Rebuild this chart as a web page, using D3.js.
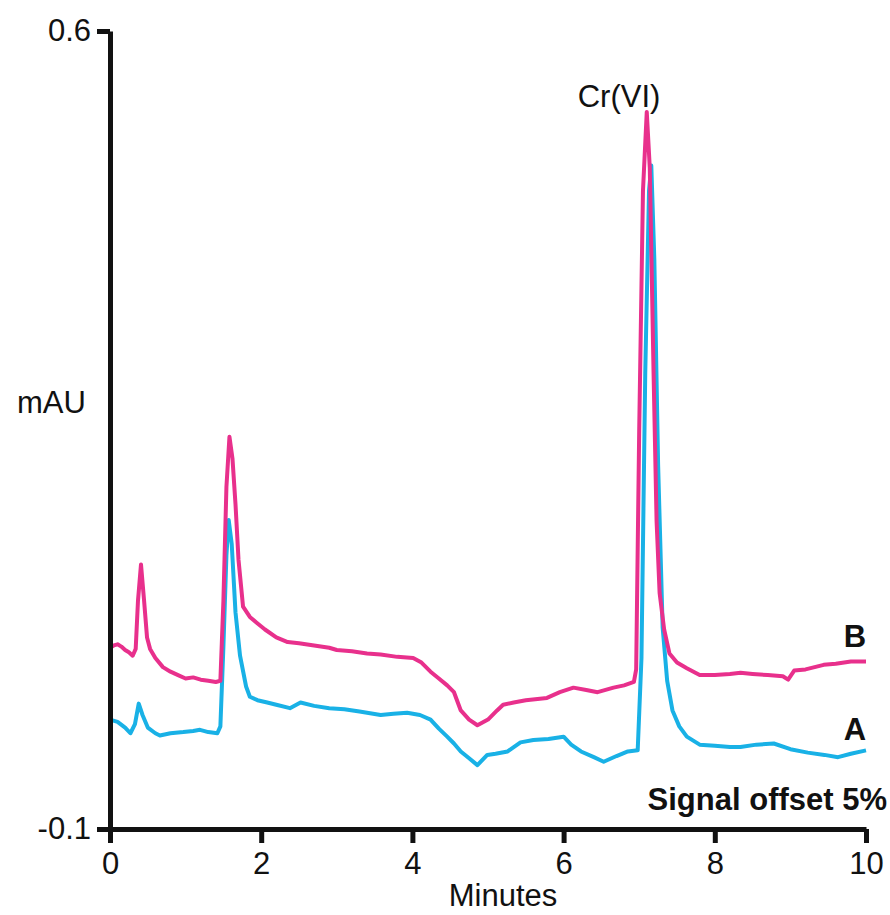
<!DOCTYPE html>
<html lang="en">
<head>
    <meta charset="UTF-8">
    <title>Cr(VI) chromatogram</title>
    <script src="https://cdnjs.cloudflare.com/ajax/libs/d3/7.8.5/d3.min.js"></script>
    <style>
        body { margin: 0; background: #fff; font-family: Arial, "Liberation Sans", sans-serif; }
        svg { display: block; }
        .axis path, .axis line { stroke: #111; stroke-width: 5px; }
        .axis text { font-family: Arial, "Liberation Sans", sans-serif; font-size: 31px; fill: #111; }
        .label { font-family: Arial, "Liberation Sans", sans-serif; font-size: 31px; fill: #111; }
        .bold { font-weight: bold; }
    </style>
</head>
<body>
<svg width="890" height="915"></svg>
<script>
    // trace B (pink, upper) - time in minutes, signal in mAU
    const timeB = [0.00, 0.05, 0.10, 0.15, 0.20, 0.25, 0.30, 0.34, 0.37, 0.41, 0.45, 0.49, 0.53, 0.60, 0.70,
        0.80, 0.90, 1.00, 1.10, 1.20, 1.30, 1.40, 1.46, 1.50, 1.54, 1.58, 1.62, 1.66, 1.70, 1.76,
        1.85, 1.94, 2.05, 2.20, 2.35, 2.50, 2.70, 2.90, 3.00, 3.20, 3.40, 3.58, 3.80, 4.01, 4.12,
        4.24, 4.35, 4.46, 4.55, 4.64, 4.75, 4.86, 5.00, 5.12, 5.20, 5.34, 5.50, 5.78, 5.95, 6.13,
        6.30, 6.45, 6.66, 6.80, 6.93, 6.96, 7.00, 7.05, 7.10, 7.14, 7.19, 7.23, 7.27, 7.33, 7.40,
        7.50, 7.63, 7.80, 8.00, 8.20, 8.34, 8.50, 8.70, 8.90, 8.97, 9.05, 9.20, 9.44, 9.60, 9.80, 10.00];
    const signalB = [0.059, 0.061, 0.062, 0.060, 0.057, 0.055, 0.052, 0.058, 0.100, 0.132, 0.101, 0.068, 0.058, 0.050, 0.042,
        0.038, 0.035, 0.032, 0.033, 0.031, 0.030, 0.029, 0.030, 0.100, 0.200, 0.244, 0.225, 0.185, 0.136, 0.095,
        0.086, 0.081, 0.075, 0.068, 0.064, 0.063, 0.061, 0.059, 0.057, 0.056, 0.054, 0.053, 0.051, 0.050, 0.046,
        0.038, 0.032, 0.026, 0.020, 0.004, -0.004, -0.009, -0.004, 0.004, 0.009, 0.011, 0.013, 0.015, 0.020, 0.024,
        0.022, 0.020, 0.024, 0.026, 0.029, 0.040, 0.250, 0.460, 0.529, 0.480, 0.300, 0.170, 0.107, 0.075, 0.054,
        0.046, 0.041, 0.035, 0.035, 0.036, 0.037, 0.036, 0.035, 0.034, 0.031, 0.039, 0.040, 0.044, 0.045, 0.047, 0.047];

    // trace A (blue, lower)
    const timeA = [0.00, 0.10, 0.20, 0.27, 0.33, 0.38, 0.43, 0.50, 0.60, 0.66, 0.80, 0.97, 1.10, 1.19, 1.30,
        1.42, 1.46, 1.50, 1.54, 1.57, 1.61, 1.66, 1.72, 1.80, 1.85, 1.95, 2.08, 2.20, 2.38, 2.52,
        2.70, 2.90, 3.10, 3.30, 3.58, 3.75, 3.93, 4.10, 4.24, 4.35, 4.46, 4.55, 4.64, 4.75, 4.86,
        4.99, 5.10, 5.26, 5.43, 5.60, 5.80, 6.00, 6.10, 6.23, 6.40, 6.53, 6.70, 6.85, 6.98, 7.03,
        7.08, 7.13, 7.16, 7.20, 7.25, 7.31, 7.37, 7.44, 7.53, 7.63, 7.80, 8.00, 8.20, 8.34, 8.55,
        8.78, 9.00, 9.23, 9.45, 9.63, 9.80, 10.00];
    const signalA = [-0.004, -0.006, -0.011, -0.016, -0.008, 0.010, 0.000, -0.011, -0.016, -0.018, -0.016, -0.015, -0.014, -0.013, -0.015,
        -0.016, -0.010, 0.060, 0.140, 0.171, 0.150, 0.090, 0.052, 0.025, 0.016, 0.013, 0.011, 0.009, 0.006, 0.011,
        0.008, 0.006, 0.005, 0.003, 0.000, 0.001, 0.002, 0.000, -0.004, -0.012, -0.019, -0.025, -0.032, -0.038, -0.044,
        -0.035, -0.034, -0.032, -0.024, -0.022, -0.021, -0.019, -0.026, -0.032, -0.037, -0.041, -0.036, -0.032, -0.031, 0.050,
        0.300, 0.460, 0.482, 0.400, 0.220, 0.077, 0.030, 0.004, -0.010, -0.019, -0.026, -0.027, -0.028, -0.028, -0.026,
        -0.025, -0.030, -0.033, -0.035, -0.037, -0.034, -0.031];

    const xTicks = [0, 2, 4, 6, 8, 10];
    const yTicks = [-0.1, 0.6];
    const yTickLabels = ["-0.1", "0.6"];
    const colorA = "#19b1e6";
    const colorB = "#e8308c";

    const svg = d3.select("svg");

    const x = d3.scaleLinear().domain([0, 10]).range([110, 866]);
    const y = d3.scaleLinear().domain([-0.1, 0.6]).range([829, 31]);

    const line = d3.line()
        .x(d => x(d[0]))
        .y(d => y(d[1]));

    const dataA = timeA.map((t, i) => [t, signalA[i]]);
    const dataB = timeB.map((t, i) => [t, signalB[i]]);

    svg.append("path")
        .datum(dataA)
        .attr("d", line)
        .attr("fill", "none")
        .attr("stroke", colorA)
        .attr("stroke-width", 4)
        .attr("stroke-linejoin", "round");

    svg.append("path")
        .datum(dataB)
        .attr("d", line)
        .attr("fill", "none")
        .attr("stroke", colorB)
        .attr("stroke-width", 4)
        .attr("stroke-linejoin", "round");

    // axes
    svg.append("g")
        .attr("class", "axis")
        .attr("transform", "translate(0,829)")
        .call(d3.axisBottom(x).tickValues(xTicks).tickSize(14).tickSizeOuter(0).tickPadding(9).tickFormat(d3.format("d")));

    svg.append("g")
        .attr("class", "axis")
        .attr("transform", "translate(110,0)")
        .call(d3.axisLeft(y).tickValues(yTicks).tickSize(13).tickSizeOuter(0).tickPadding(6)
            .tickFormat((d, i) => yTickLabels[i]));

    // labels
    svg.append("text").attr("class", "label").attr("x", 17).attr("y", 413).text("mAU");
    svg.append("text").attr("class", "label").attr("x", 503).attr("y", 906)
        .attr("text-anchor", "middle").text("Minutes");
    svg.append("text").attr("class", "label").attr("x", 619).attr("y", 107)
        .attr("text-anchor", "middle").text("Cr(VI)");
    svg.append("text").attr("class", "label bold").attr("x", 855).attr("y", 647)
        .attr("text-anchor", "middle").text("B");
    svg.append("text").attr("class", "label bold").attr("x", 855).attr("y", 740)
        .attr("text-anchor", "middle").text("A");
    svg.append("text").attr("class", "label bold").attr("x", 887).attr("y", 810)
        .attr("text-anchor", "end").text("Signal offset 5%");
</script>
</body>
</html>
